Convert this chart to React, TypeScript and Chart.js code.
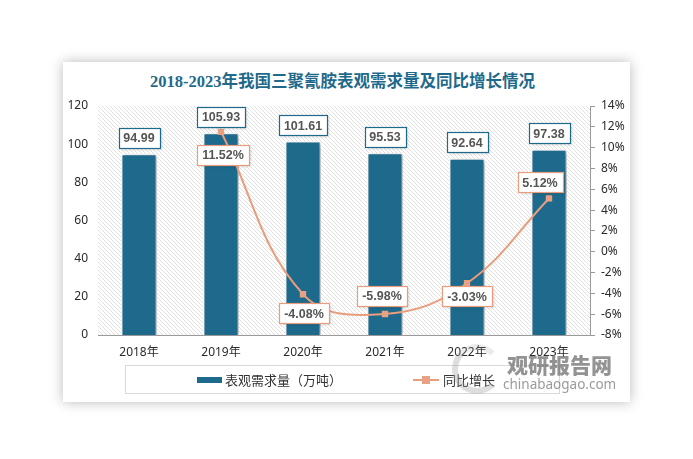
import React, { useEffect, useRef } from "react";
import { Chart, registerables } from "chart.js";

Chart.register(...registerables);

const categories = ["2018年", "2019年", "2020年", "2021年", "2022年", "2023年"];
const demandValues = [94.99, 105.93, 101.61, 95.53, 92.64, 97.38];
const growthValues: (number | null)[] = [null, 11.52, -4.08, -5.98, -3.03, 5.12];
const leftTicks = { min: 0, max: 120, step: 20 };
const rightTicks = { min: -8, max: 14, step: 2 };

const TITLE = "2018-2023年我国三聚氰胺表观需求量及同比增长情况";
const BAR_LABEL = "表观需求量（万吨）";
const LINE_LABEL = "同比增长";

const BAR_COLOR = "#1d6a8d";
const LINE_COLOR = "#e99d7c";
const TICK_FONT = "'Noto Sans', 'Noto Sans CJK SC', sans-serif";

function makePattern(ctx: CanvasRenderingContext2D) {
  const c = document.createElement("canvas");
  const n = 4;
  c.width = n;
  c.height = n;
  const g = c.getContext("2d")!;
  g.fillStyle = "#ffffff";
  g.fillRect(0, 0, n, n);
  g.strokeStyle = "#dedede";
  g.lineWidth = 0.9;
  g.beginPath();
  g.moveTo(-1, -1);
  g.lineTo(n + 1, n + 1);
  g.moveTo(-1, n - 1);
  g.lineTo(1, n + 1);
  g.moveTo(n - 1, -1);
  g.lineTo(n + 1, 1);
  g.stroke();
  return ctx.createPattern(c, "repeat");
}

const hatchPlugin = {
  id: "hatch",
  beforeDraw(chart: any) {
    const { ctx, chartArea } = chart;
    const p = makePattern(ctx);
    if (!p) return;
    ctx.save();
    ctx.fillStyle = p;
    ctx.fillRect(chartArea.left, chartArea.top, chartArea.right - chartArea.left, chartArea.bottom - chartArea.top);
    ctx.restore();
  },
};

const shadowPlugin = {
  id: "barShadow",
  beforeDatasetDraw(chart: any, args: any) {
    if (args.index !== 0) return;
    const ctx = chart.ctx;
    ctx.save();
    ctx.shadowColor = "rgba(0,0,0,0.3)";
    ctx.shadowBlur = 4;
    ctx.shadowOffsetX = 2;
    ctx.shadowOffsetY = 1;
  },
  afterDatasetDraw(chart: any, args: any) {
    if (args.index !== 0) return;
    chart.ctx.restore();
  },
};

function drawBox(ctx: CanvasRenderingContext2D, text: string, cx: number, cy: number, border: string) {
  ctx.font = "bold 12.5px 'Liberation Sans', 'Noto Sans', sans-serif";
  const w = Math.round(ctx.measureText(text).width + 10);
  const h = 20;
  const x = Math.round(cx - w / 2) + 0.5;
  const y = Math.round(cy - h / 2) + 0.5;
  ctx.save();
  ctx.shadowColor = "rgba(0,0,0,0.18)";
  ctx.shadowBlur = 3;
  ctx.shadowOffsetX = 1;
  ctx.shadowOffsetY = 1;
  ctx.fillStyle = "#ffffff";
  ctx.fillRect(x, y, w, h);
  ctx.restore();
  ctx.strokeStyle = border;
  ctx.lineWidth = 1.2;
  ctx.strokeRect(x, y, w, h);
  ctx.fillStyle = "#555555";
  ctx.textAlign = "center";
  ctx.textBaseline = "middle";
  ctx.fillText(text, cx, cy + 1);
}

const labelPlugin = {
  id: "valueLabels",
  afterDatasetsDraw(chart: any) {
    const ctx = chart.ctx;
    ctx.save();
    const barMeta = chart.getDatasetMeta(0);
    barMeta.data.forEach((el: any, i: number) => {
      const v = chart.data.datasets[0].data[i];
      drawBox(ctx, v.toFixed(2), el.x, el.y - 16, BAR_COLOR);
    });
    const shifts: Record<number, [number, number]> = {
      1: [2, 23],
      2: [1, 19],
      3: [-3, -18],
      4: [0, 13],
      5: [-9, -16],
    };
    const lineMeta = chart.getDatasetMeta(1);
    lineMeta.data.forEach((el: any, i: number) => {
      const v = chart.data.datasets[1].data[i];
      if (v === null || v === undefined) return;
      const s = shifts[i] || [0, -18];
      drawBox(ctx, v.toFixed(2) + "%", el.x + s[0], el.y + s[1], LINE_COLOR);
    });
    ctx.restore();
  },
};

export default function App() {
  const ref = useRef<HTMLCanvasElement | null>(null);

  useEffect(() => {
    if (!ref.current) return;
    const chart = new Chart(ref.current, {
      data: {
        labels: categories,
        datasets: [
          {
            type: "bar",
            label: BAR_LABEL,
            data: demandValues,
            backgroundColor: BAR_COLOR,
            borderColor: "#ffffff",
            borderWidth: 1.5,
            borderSkipped: "bottom",
            categoryPercentage: 1,
            barPercentage: 0.44,
            yAxisID: "y",
            order: 1,
          },
          {
            type: "line",
            label: LINE_LABEL,
            data: growthValues,
            borderColor: LINE_COLOR,
            borderWidth: 2,
            backgroundColor: "#e8a283",
            pointStyle: "rect",
            pointRadius: 4.5,
            pointBorderWidth: 0,
            pointBackgroundColor: "#e8a283",
            tension: 0.4,
            yAxisID: "y1",
            order: 0,
          },
        ] as any,
      },
      options: {
        animation: false,
        responsive: true,
        maintainAspectRatio: false,
        layout: { padding: { top: 106, left: 0, right: 0, bottom: 0 } },
        plugins: {
          legend: { display: false },
          title: { display: false },
          tooltip: { enabled: false },
        },
        scales: {
          x: {
            grid: { display: false, drawTicks: false },
            border: { display: true, color: "#9a9a9a", width: 1 },
            ticks: { padding: 10, color: "#2a2a2a", font: { size: 12, family: TICK_FONT } },
            afterFit(scale: any) {
              scale.height = 124;
            },
          },
          y: {
            position: "left",
            min: leftTicks.min,
            max: leftTicks.max,
            grid: { display: false, drawTicks: false },
            border: { display: false },
            ticks: { stepSize: leftTicks.step, padding: 10, color: "#2a2a2a", font: { size: 12, family: TICK_FONT } },
            afterFit(scale: any) {
              scale.width = 98;
            },
          },
          y1: {
            position: "right",
            min: rightTicks.min,
            max: rightTicks.max,
            grid: { drawOnChartArea: false, drawTicks: true, tickLength: 5, color: "#9a9a9a" },
            border: { display: true, color: "#9a9a9a", width: 1 },
            ticks: {
              stepSize: rightTicks.step,
              padding: 6,
              color: "#2a2a2a",
              font: { size: 12, family: TICK_FONT },
              callback: (v: any) => v + "%",
            },
            afterFit(scale: any) {
              scale.width = 103;
            },
          },
        },
      } as any,
      plugins: [hatchPlugin, shadowPlugin, labelPlugin],
    });
    return () => chart.destroy();
  }, []);

  const cjk = "'Noto Sans CJK SC', 'Noto Sans', sans-serif";

  return (
    <div style={{ position: "fixed", left: 0, top: 0, width: 693, height: 459, background: "#ffffff", overflow: "hidden" }}>
      <div
        style={{
          position: "absolute",
          left: 63,
          top: 62,
          width: 567,
          height: 340,
          background: "#ffffff",
          boxShadow: "0 0 12px rgba(0,0,0,0.28)",
        }}
      />
      <div
        style={{
          position: "absolute",
          left: 150,
          top: 70,
          width: 344,
          textAlign: "center",
          fontFamily: "'Liberation Serif', 'Noto Sans CJK SC', serif",
          fontWeight: "bold",
          fontSize: 16.5,
          lineHeight: "24px",
          color: "#1f6a8b",
          whiteSpace: "nowrap",
        }}
      >
        {TITLE}
      </div>
      <div style={{ position: "absolute", left: 0, top: 0, width: 693, height: 459 }}>
        <canvas ref={ref} />
      </div>
      <div
        style={{
          position: "absolute",
          left: 125,
          top: 365,
          width: 433,
          height: 27,
          border: "1px solid #d9d9d9",
          boxSizing: "content-box",
        }}
      >
        <div style={{ position: "absolute", left: 71, top: 11, width: 25, height: 6, background: BAR_COLOR }} />
        <div
          style={{
            position: "absolute",
            left: 99,
            top: 4,
            fontFamily: cjk,
            fontSize: 13,
            lineHeight: "20px",
            color: "#333333",
            whiteSpace: "nowrap",
          }}
        >
          {BAR_LABEL}
        </div>
        <div style={{ position: "absolute", left: 287, top: 13, width: 26, height: 2, background: LINE_COLOR }} />
        <div style={{ position: "absolute", left: 296, top: 10, width: 8, height: 8, background: "#e8a283" }} />
        <div
          style={{
            position: "absolute",
            left: 317,
            top: 4,
            fontFamily: cjk,
            fontSize: 13,
            lineHeight: "20px",
            color: "#333333",
            whiteSpace: "nowrap",
          }}
        >
          {LINE_LABEL}
        </div>
      </div>
      <div
        style={{
          position: "absolute",
          left: 452,
          top: 344,
          width: 50,
          height: 50,
          borderRadius: "50%",
          border: "6px solid rgba(160,160,160,0.35)",
          borderRightColor: "transparent",
          borderTopColor: "rgba(160,160,160,0.2)",
          boxSizing: "border-box",
        }}
      />
      <div
        style={{
          position: "absolute",
          left: 507,
          top: 351,
          fontFamily: cjk,
          fontWeight: 900,
          fontSize: 21,
          lineHeight: "26px",
          color: "rgba(120,120,120,0.8)",
          whiteSpace: "nowrap",
        }}
      >
        观研报告网
      </div>
      <div
        style={{
          position: "absolute",
          left: 503,
          top: 376,
          fontFamily: "'Noto Sans', sans-serif",
          fontSize: 13.5,
          lineHeight: "16px",
          color: "rgba(130,130,130,0.8)",
          whiteSpace: "nowrap",
        }}
      >
        chinabaogao.com
      </div>
    </div>
  );
}
